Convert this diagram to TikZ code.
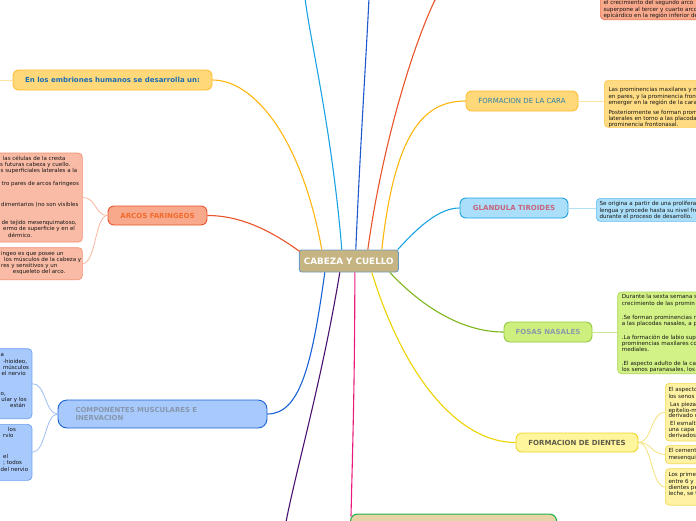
\documentclass[tikz,border=0pt]{standalone}
\usepackage{fontspec}
\setmainfont{DejaVu Sans}
\usetikzlibrary{calc}
\definecolor{cMainF}{HTML}{C6B482}
\definecolor{cMainB}{HTML}{6B9AC4}
\definecolor{cOr}{HTML}{FFB60F}
\definecolor{cOrF}{HTML}{FFD87A}
\definecolor{cOrB}{HTML}{FFBC2E}
\definecolor{cOrL}{HTML}{FFE3A0}
\definecolor{cOrBoxF}{HTML}{FFDC84}
\definecolor{cOrBoxB}{HTML}{FFC84A}
\definecolor{cRed}{HTML}{E9542B}
\definecolor{cRedF}{HTML}{F8A98B}
\definecolor{cRedBoxF}{HTML}{F9BBA5}
\definecolor{cRedBoxB}{HTML}{F3906F}
\definecolor{cRedL}{HTML}{F8B59D}
\definecolor{cRedTxt}{HTML}{F26A2C}
\definecolor{cSky}{HTML}{1AA3E5}
\definecolor{cSkyF}{HTML}{ABDEF8}
\definecolor{cSkyBoxB}{HTML}{62BDEB}
\definecolor{cSkyL}{HTML}{B2E1F7}
\definecolor{cGr}{HTML}{7DB51B}
\definecolor{cGrF}{HTML}{CDEF7D}
\definecolor{cGrB}{HTML}{92C93C}
\definecolor{cGrBoxF}{HTML}{D2F186}
\definecolor{cGrBoxB}{HTML}{A8D54F}
\definecolor{cGrL}{HTML}{C8E88E}
\definecolor{cYe}{HTML}{EDD300}
\definecolor{cYeF}{HTML}{FFF59C}
\definecolor{cYeB}{HTML}{EED52A}
\definecolor{cYeBoxF}{HTML}{FFF3A3}
\definecolor{cYeBoxB}{HTML}{F2D955}
\definecolor{cYeL}{HTML}{F3E07A}
\definecolor{cBl}{HTML}{1862D6}
\definecolor{cBlF}{HTML}{A8C9FB}
\definecolor{cBlBoxB}{HTML}{6C9FF0}
\definecolor{cBlL}{HTML}{9CBEF2}
\definecolor{cTopBl}{HTML}{2059CC}
\definecolor{cPink}{HTML}{E91A7C}
\definecolor{cPur}{HTML}{4B1170}
\definecolor{cTanF}{HTML}{E8D4A6}
\definecolor{cGreenB}{HTML}{22B14C}
\definecolor{tEmbr}{HTML}{1B6DB3}
\definecolor{tCara}{HTML}{2D7FA8}
\definecolor{tTiro}{HTML}{C5657E}
\definecolor{tFosas}{HTML}{8C9AAB}
\definecolor{tDien}{HTML}{5E5A4A}
\definecolor{tComp}{HTML}{8797AE}
\definecolor{tBody}{HTML}{141414}
\tikzset{
  conn/.style={line width=1.1pt},
  subconn/.style={line width=0.8pt},
  title/.style={rounded corners=6pt, line width=0.9pt, inner sep=0pt, font=\fontsize{7}{8}\selectfont},
  tbold/.style={title, font=\bfseries\fontsize{7}{8}\selectfont},
  cbox/.style={rounded corners=4pt, line width=0.7pt, inner sep=0pt},
  ctext/.style={font=\fontsize{5.6}{6}\selectfont, text=tBody, align=left, inner sep=0pt, anchor=north west},
  ltext/.style={font=\fontsize{5.5}{6.3}\selectfont, text=tBody, align=left, inner sep=0pt, anchor=north west},
}
\begin{document}
\begin{tikzpicture}[x=1pt,y=-1pt]
\useasboundingbox (0,0) rectangle (696,520);
\clip (0,0) rectangle (696,520);

% ---------- boxes of text ----------
\node[cbox, fill=cRedF, draw=cRed!80, minimum width=120, minimum height=40, anchor=south west] (topbox) at (600,20) {};
\node[ctext] (topt) at (603.3,0.3) {\strut el crecimiento del segundo arco\\superpone al tercer y cuarto arco\\epicárdico en la región inferior de};

\node[cbox, fill=cOrBoxF, draw=cOrBoxB, minimum width=110, minimum height=47, anchor=north west] (carabox) at (604,80) {};
\node[ctext] (carat) at (608.3,86.6) {\strut Las prominencias maxilares y m\\en pares, y la prominencia front\\emerger en la región de la cara\\[4.4pt]Posteriormente se forman prom\\laterales en torno a las placoda\\prominencia frontonasal.};

\node[cbox, fill=cSkyF, draw=cSkyBoxB, minimum width=110, minimum height=23, anchor=north west] (tirobox) at (596,198) {};
\node[ctext] (tirot) at (599.3,200.6) {\strut Se origina a partir de una prolifera\\lengua y procede hasta su nivel fre\\durante el proceso de desarrollo.};

\node[cbox, fill=cGrBoxF, draw=cGrBoxB, minimum width=90, minimum height=81.6, anchor=north west] (fosasbox) at (617.3,291.7) {};
\node[ctext] (fosast) at (621.7,294) {\strut Durante la sexta semana s\\crecimiento de las promin\\[8.2pt].Se forman prominencias n\\a las placodas nasales, a p\\[8.2pt].La formación de labio sup\\prominencias maxilares co\\mediales.\\[8pt].El aspecto adulto de la ca\\los senos paranasales, los};

\node[cbox, fill=cYeBoxF, draw=cYeBoxB, minimum width=50, minimum height=57.7, anchor=north west] (dbox1) at (665,383) {};
\node[ctext, font=\fontsize{5.6}{5.7}\selectfont] (dt1) at (668.3,386.8) {\strut El aspecto\\los senos\\[2.6pt]\hspace*{1.5pt}Las pieza\\epitelio-m\\derivado d\\[2.0pt]\hspace*{1.5pt}El esmalt\\una capa\\derivados};
\node[cbox, fill=cYeBoxF, draw=cYeBoxB, minimum width=50, minimum height=18.3, anchor=north west] (dbox2) at (665,445) {};
\node[ctext, font=\fontsize{5.6}{5.7}\selectfont] (dt2) at (668.3,448.5) {\strut El cement\\mesenqui};
\node[cbox, fill=cYeBoxF, draw=cYeBoxB, minimum width=50, minimum height=36.5, anchor=north west] (dbox3) at (665,468.3) {};
\node[ctext, font=\fontsize{5.6}{5.7}\selectfont] (dt3) at (668.3,472.5) {\strut Los primer\\entre 6 y\\dientes pe\\leche, se t};

\node[cbox, fill=cRedBoxF, draw=cRedBoxB, minimum width=100, minimum height=89, anchor=north east] (abox1) at (82.7,152.7) {};
\node[ltext] (at1) at (0,155.4) {\strut\hspace*{2.7pt}las células de la cresta\\s futuras cabeza y cuello.\\\hspace*{0.5pt}s superficiales laterales a la\\[6.1pt]\hspace*{1.5pt}tro pares de arcos faringeos\\[15.4pt]\hspace*{1pt}dimentarios (no son visibles\\[11.4pt]\hspace*{1.5pt}de tejido mesenquimatoso,\\\hspace*{3pt}ermo de superficie y en el\\\hspace*{8pt}dérmico.};
\node[cbox, fill=cRedBoxF, draw=cRedBoxB, minimum width=100, minimum height=32, anchor=north east] (abox2) at (82.7,247.3) {};
\node[ltext] (at2) at (0,250.4) {\strut\hspace*{1pt}ingeo es que posee un\\\hspace*{4pt}los músculos de la cabeza y\\\hspace*{1pt}res y sensitivos y un\\\hspace*{12.7pt}esqueleto del arco.};

\node[cbox, fill=cBlF, draw=cBlBoxB, minimum width=60, minimum height=70, anchor=north east] (cbox1) at (32.3,348.3) {};
\node[ltext] (ct1) at (0,352.1) {\strut\hspace*{0.5pt}a\\\hspace*{3pt}-hioideo,\\\hspace*{2.8pt}músculos\\\hspace*{1.5pt}el nervio\\[13.1pt]\hspace*{0.5pt}o,\\\hspace*{1.3pt}ular y los\\\hspace*{10pt}están};
\node[cbox, fill=cBlF, draw=cBlBoxB, minimum width=60, minimum height=56, anchor=north east] (cbox2) at (32.3,424) {};
\node[ltext] (ct2) at (0,426.4) {\strut\hspace*{8pt}los\\\hspace*{3pt}rvio\\[14.8pt]\hspace*{3pt}el\\\hspace*{3pt}; todos\\\hspace*{0.5pt}del nervio};

% ---------- titles ----------
\node[tbold, fill=cMainF, draw=cMainB, text=white, minimum width=99, minimum height=22, font=\bfseries\fontsize{8.8}{10}\selectfont, rounded corners=2.5pt] (main) at (348.8,261) {CABEZA Y CUELLO};
\node[tbold, fill=cOrF, draw=cOrB, text=tEmbr, minimum width=199, minimum height=20] (embr) at (112.5,80) {En los embriones humanos se desarrolla un:};
\node[tbold, fill=cRedF, draw=cRed, text=cRedTxt, minimum width=99, minimum height=19] (arcos) at (157.5,215.5) {ARCOS FARINGEOS};
\node[title, fill=cOrF, draw=cOrB, text=tCara, minimum width=112, minimum height=20] (cara) at (522,101) {FORMACION DE LA CARA};
\node[tbold, fill=cSkyF, draw=cSky, text=tTiro, minimum width=108, minimum height=20] (tiro) at (514,208) {GLANDULA TIROIDES};
\node[tbold, fill=cGrF, draw=cGrB, text=tFosas, minimum width=88, minimum height=20] (fosas) at (548,332) {FOSAS NASALES};
\node[tbold, fill=cYeF, draw=cYeB, text=tDien, minimum width=122, minimum height=19] (dientes) at (577,442.5) {FORMACION DE DIENTES};
\node[tbold, fill=cBlF, draw=cBl, text=tComp, minimum width=209, minimum height=28, text width=174, align=left, font=\bfseries\fontsize{6.9}{8.3}\selectfont, rounded corners=9pt] (comp) at (162.5,414) {COMPONENTES MUSCULARES E\\INERVACION};
\node[cbox, fill=cTanF, draw=cGreenB, line width=1.1pt, rounded corners=7pt, minimum width=206, minimum height=30, anchor=north west] (bot) at (350,513.5) {};

% ---------- free ends ----------
\coordinate (topA) at (305,-2);
\coordinate (topB) at (369,-2);
\coordinate (topC) at (436,-2);
\coordinate (botP) at (286,522);
\coordinate (leftE) at (-2,80);

% ---------- main connectors ----------
\draw[conn, cOr] ($(main.north)+(-27,0)$) .. controls (302,140) and (255,80) .. (embr.east);
\draw[conn, cSky] ($(main.north)+(-7,0)$) .. controls (332,130) and (310,40) .. (topA);
\draw[conn, cTopBl] ($(main.north)+(7,0)$) .. controls (360,150) and (366,60) .. (topB);
\draw[conn, cRed] ($(main.north)+(19,0)$) .. controls (383,140) and (415,40) .. (topC);
\draw[conn, cOr] ($(main.north)+(33,0)$) .. controls (395,130) and (425,101) .. (cara.west);
\draw[conn, cSky] ($(main.north east)+(-1,0)$) .. controls (420,225) and (440,208) .. (tiro.west);
\draw[conn, cRed] ($(main.north west)+(1,2)$) .. controls (270,230) and (240,215.5) .. (arcos.east);
\draw[conn, cGr] ($(main.south)+(41,0)$) .. controls (425,310) and (465,332) .. (fosas.west);
\draw[conn, cYe] ($(main.south)+(23,0)$) .. controls (405,380) and (460,442.5) .. (dientes.west);
\draw[conn, cPink] ($(main.south)+(6,0)$) .. controls (355,380) and (352,470) .. ($(bot.north west)+(1,3)$);
\draw[conn, cPur] ($(main.south)+(-9,0)$) .. controls (322,380) and (296,470) .. (botP);
\draw[conn, cBl] ($(main.south)+(-24,0)$) .. controls (312,365) and (300,414) .. (comp.east);

% ---------- sub connectors ----------
\draw[subconn, cOrL] (embr.west) -- (leftE);
\draw[subconn, cOrL] (cara.east) -- (cara.east -| carabox.west);
\draw[subconn, cSkyL] (tiro.east) -- (tiro.east -| tirobox.west);
\draw[subconn, cGrL] (fosas.east) -- (fosas.east -| fosasbox.west);
\draw[subconn, cYeL] (dientes.east) .. controls (652,442.5) and (651,412) .. (dbox1.west);
\draw[subconn, cYeL] (dientes.east) .. controls (652,442.5) and (651,454) .. (dbox2.west);
\draw[subconn, cYeL] (dientes.east) .. controls (652,442.5) and (651,486.5) .. (dbox3.west);
\draw[subconn, cRedL] (arcos.west) .. controls (95,215.5) and (96,197) .. (abox1.east);
\draw[subconn, cRedL] (arcos.west) .. controls (95,215.5) and (96,263.3) .. (abox2.east);
\draw[subconn, cBlL] (comp.west) .. controls (45,414) and (46,383.3) .. (cbox1.east);
\draw[subconn, cBlL] (comp.west) .. controls (45,414) and (46,452) .. (cbox2.east);
\end{tikzpicture}
\end{document}
